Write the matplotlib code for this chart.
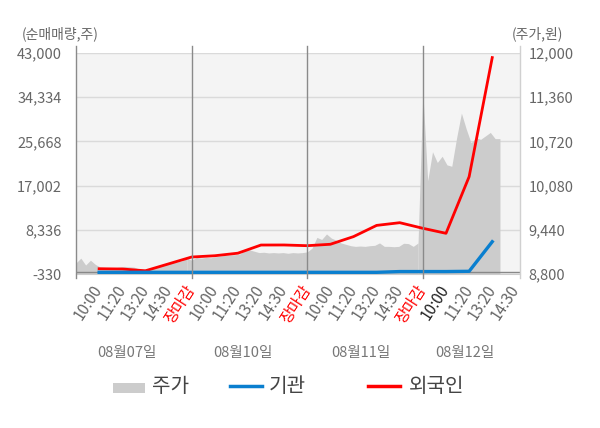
import numpy as np
import matplotlib.pyplot as plt
from matplotlib.patches import Rectangle

plt.rcParams['font.family'] = ['Noto Sans CJK KR', 'DejaVu Sans']

days = ['08월07일', '08월10일', '08월11일', '08월12일']
time_labels = ['10:00', '11:20', '13:20', '14:30', '장마감'] * 3 + ['10:00', '11:20', '13:20', '14:30']

# net buying (shares) at each labelled time
foreign = [700, 650, 300, 1650, 3000,
           3250, 3750, 5350, 5360, 5220,
           5500, 7000, 9200, 9730, 8630,
           7650, 18750, 42100]
institution = [0, 0, 0, 0, 0,
               0, 0, 0, 0, 0,
               0, 0, 0, 150, 150,
               150, 200, 6000]

# intraday price (won), sampled evenly through each session
price_d1 = [8960, 9030, 8930, 9000, 8940, 8900, 8895, 8890, 8890, 8900, 8910, 8905,
            8900, 8875, 8870, 8875, 8900, 8920, 8940, 8960, 8970, 8975, 8990, 9030]
price_d2 = [9000, 9040, 9030, 9040, 9035, 9050, 9060, 9070, 9075, 9080, 9090, 9140,
            9150, 9130, 9110, 9115, 9105, 9110, 9105, 9110, 9100, 9110, 9105, 9110]
price_d3 = [9120, 9175, 9330, 9300, 9380, 9320, 9290, 9250, 9230, 9210, 9200, 9205,
            9200, 9210, 9215, 9250, 9200, 9200, 9195, 9200, 9245, 9240, 9200, 9250]
price_d4 = [11430, 10150, 10570, 10415, 10505, 10380, 10360, 10770, 11130, 10900,
            10700, 10770, 10750, 10800, 10850, 10760, 10760]

vol_ticks = [-330, 8336, 17002, 25668, 34334, 43000]
price_ticks = [8800, 9440, 10080, 10720, 11360, 12000]

GREY = '#cccccc'
BLUE = '#0a7fcf'
RED = '#ff0000'
TXT = '#666666'

fig = plt.figure(figsize=(6, 4.28), dpi=100)
ax = fig.add_axes([76 / 600, 1 - 274 / 428, 444 / 600, 221 / 428])
ax2 = ax.twinx()

# price area (right axis)
step = 5 / 24
for d, p in enumerate([price_d1, price_d2, price_d3, price_d4]):
    xs = 5 * d + np.arange(len(p)) * step
    ax.fill_between(xs, 8800, p, color=GREY, lw=0, zorder=2)
# join the sessions so the area is continuous
for d, (a, b) in enumerate([(price_d1, price_d2), (price_d2, price_d3), (price_d3, price_d4)]):
    ax.fill_between([5 * d + 23 * step, 5 * d + 5], 8800, [a[-1], b[0]], color=GREY, lw=0, zorder=2)

ax.set_facecolor('#f4f4f4')
ax.set_xlim(0, 19.2)
ax.set_ylim(8800, 12000)
ax.set_yticks(price_ticks, [f'{v:,}' for v in price_ticks])
ax.yaxis.tick_right()
ax.grid(axis='y', color='#dadada', lw=1, zorder=1)
ax.tick_params(axis='y', length=0, pad=6, labelsize=10.5, labelcolor=TXT)

tick_pos = list(range(1, 20))
ax.set_xticks(tick_pos, time_labels)
ax.tick_params(axis='x', length=0, pad=9, labelsize=11)
for i, lab in enumerate(ax.get_xticklabels()):
    lab.set_rotation(57)
    lab.set_ha('right')
    lab.set_va('center')
    lab.set_rotation_mode('anchor')
    if lab.get_text() == '장마감':
        lab.set_color(RED)
    elif i == 15:
        lab.set_color('#222222')
    else:
        lab.set_color(TXT)

for s in ['top', 'left', 'right']:
    ax.spines[s].set_visible(False)
ax.spines['bottom'].set_color('#cccccc')

# net buying lines (left axis)
xl = list(range(1, 19))
ax2.axhline(0, color='#888888', lw=1, zorder=1)
ax2.plot(xl, foreign, color=RED, lw=2, zorder=3)
ax2.plot(xl, institution, color=BLUE, lw=2.4, zorder=4)
ax2.set_ylim(-330, 43000)
ax2.set_yticks(vol_ticks, [f'{v:,}' for v in vol_ticks])
ax2.yaxis.tick_left()
ax2.tick_params(axis='y', length=0, pad=10, labelsize=10.5, labelcolor=TXT)
for s in ax2.spines.values():
    s.set_visible(False)

# left edge, day separators, right edge
for x in [0, 5, 10, 15]:
    ax2.axvline(x, ymin=-0.018, ymax=1.032, color='#8a8a8a', lw=1, clip_on=False, zorder=5)
ax2.axvline(19.2, ymin=-0.018, ymax=1.032, color='#d0d0d0', lw=1, clip_on=False, zorder=5)

# day labels
for x, d in zip([2.2, 7.2, 12.3, 16.8], days):
    ax.text(x, -0.357, d, transform=ax.get_xaxis_transform(), ha='center', va='center',
            fontsize=10.5, color='#777777')

fig.text(22 / 600, 1 - 34 / 428, '(순매매량,주)', ha='left', va='center', fontsize=10, color=TXT)
fig.text(563 / 600, 1 - 34 / 428, '(주가,원)', ha='right', va='center', fontsize=10, color=TXT)

# legend, laid out in pixel space
lg = fig.add_axes([0, 0, 1, 1], facecolor='none')
lg.set_xlim(0, 600)
lg.set_ylim(428, 0)
lg.axis('off')
lg.add_patch(Rectangle((113, 383), 32, 10, color=GREY, lw=0))
lg.plot([230, 262], [386, 386], color=BLUE, lw=2.5)
lg.plot([368, 400], [386, 386], color=RED, lw=2.5)
for x, t in [(152, '주가'), (269, '기관'), (409, '외국인')]:
    lg.text(x, 387, t, ha='left', va='center', fontsize=14.5, color='#444444')

fig.savefig('out.png', dpi=100)
